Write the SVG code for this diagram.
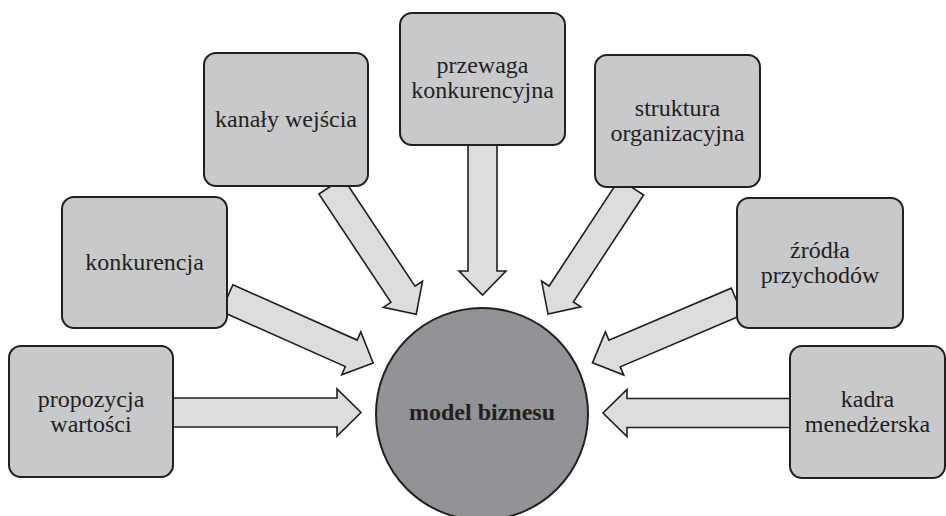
<svg xmlns="http://www.w3.org/2000/svg" width="946" height="516" viewBox="0 0 946 516">
<style>
.box{fill:#c8c9cb;stroke:#231f20;stroke-width:2}
.arr{fill:#dcdddf;stroke:#231f20;stroke-width:1.6;stroke-linejoin:miter}
.hub{fill:#929396;stroke:#231f20;stroke-width:2}
text{font-family:"Liberation Serif","Times New Roman",serif;font-size:24px;fill:#231f20;text-anchor:middle}
.b{font-weight:bold}
</style>
<rect width="946" height="516" fill="#ffffff"/>
<g id="connectors">
<polygon class="arr" transform="translate(173,412.5)" points="0,-14.5 164,-14.5 164,-23.5 188,0 164,23.5 164,14.5 0,14.5"/>
<polygon class="arr" transform="translate(227,298) rotate(24)" points="0,-14.5 136,-14.5 136,-23.5 160,0 136,23.5 136,14.5 0,14.5"/>
<polygon class="arr" transform="translate(331,186) rotate(56.4)" points="0,-14.5 130,-14.5 130,-23.5 154,0 130,23.5 130,14.5 0,14.5"/>
<polygon class="arr" transform="translate(482.5,145) rotate(90)" points="0,-14.5 126,-14.5 126,-23.5 150,0 126,23.5 126,14.5 0,14.5"/>
<polygon class="arr" transform="translate(631.5,187) rotate(123.3)" points="0,-14.5 128,-14.5 128,-23.5 152,0 128,23.5 128,14.5 0,14.5"/>
<polygon class="arr" transform="translate(737,301.5) rotate(157)" points="0,-14.5 133,-14.5 133,-23.5 157,0 133,23.5 133,14.5 0,14.5"/>
<polygon class="arr" transform="translate(790,413) rotate(180)" points="0,-14.5 163,-14.5 163,-23.5 187,0 163,23.5 163,14.5 0,14.5"/>
</g>
<g id="node-propozycja">
<rect class="box" x="9" y="346" width="164" height="131" rx="12"/>
<text x="91" y="407">propozycja</text>
<text x="91" y="432">wartości</text>
</g>
<g id="node-konkurencja">
<rect class="box" x="62" y="197" width="165" height="131" rx="12"/>
<text x="144.5" y="270">konkurencja</text>
</g>
<g id="node-kanaly">
<rect class="box" x="204" y="53" width="164" height="133" rx="12"/>
<text x="286" y="127">kanały wejścia</text>
</g>
<g id="node-przewaga">
<rect class="box" x="400" y="13" width="165" height="132" rx="12"/>
<text x="482.5" y="73">przewaga</text>
<text x="482.5" y="98">konkurencyjna</text>
</g>
<g id="node-struktura">
<rect class="box" x="595" y="55" width="165" height="132" rx="12"/>
<text x="677.5" y="116">struktura</text>
<text x="677.5" y="141">organizacyjna</text>
</g>
<g id="node-zrodla">
<rect class="box" x="737" y="198" width="166" height="130" rx="12"/>
<text x="820" y="258">źródła</text>
<text x="820" y="283">przychodów</text>
</g>
<g id="node-kadra">
<rect class="box" x="790" y="346" width="155" height="132" rx="12"/>
<text x="867.5" y="407">kadra</text>
<text x="867.5" y="432">menedżerska</text>
</g>
<g id="node-model">
<circle class="hub" cx="482" cy="414" r="106"/>
<text class="b" x="482" y="420">model biznesu</text>
</g>
</svg>
